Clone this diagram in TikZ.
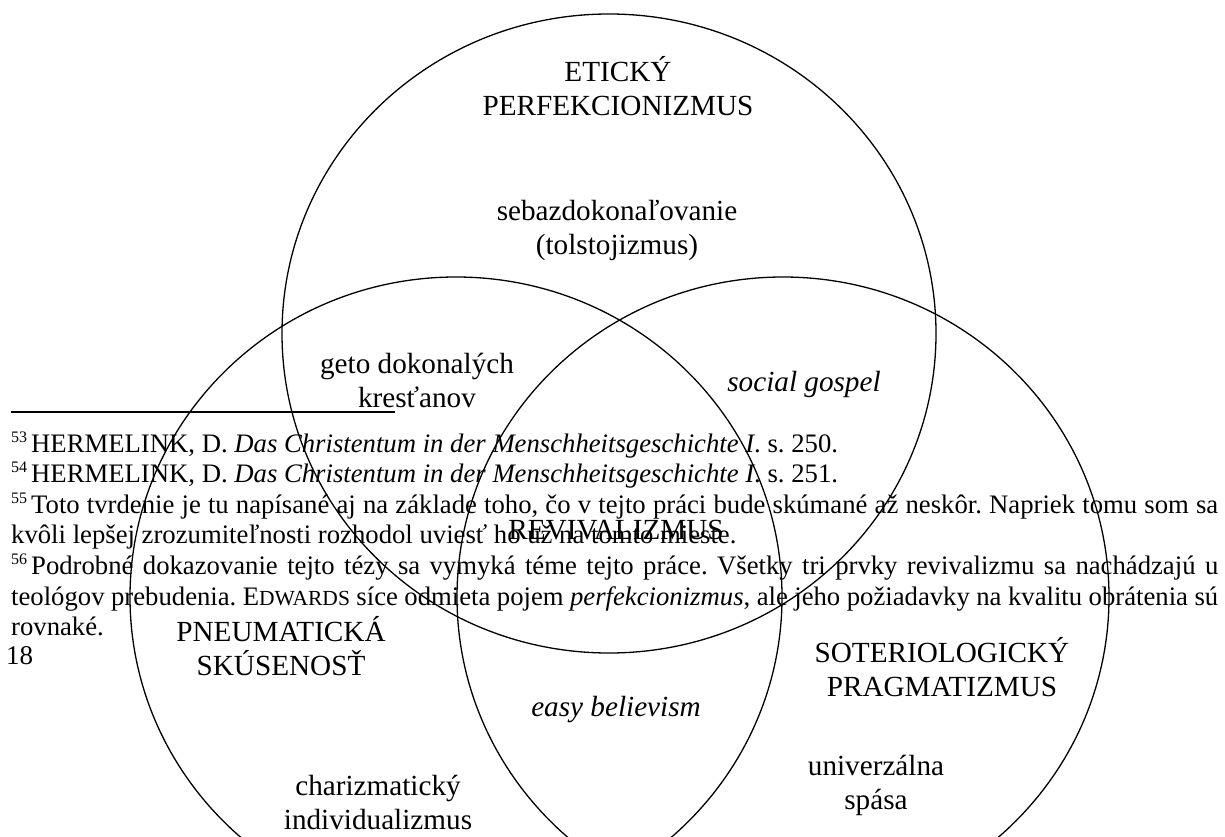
\documentclass[tikz,border=0pt]{standalone}
\usepackage{fontspec}
\setmainfont{Liberation Serif}
\usetikzlibrary{shapes.geometric}
\frenchspacing
\newcommand{\fnsize}{\fontsize{26.7}{30.6}\selectfont}
\newcommand{\lbsize}{\fontsize{29.2}{34}\selectfont}
\newcommand{\fnmark}[1]{\raisebox{10pt}{\fontsize{16}{16}\selectfont #1}\hspace{4pt}}
\newcommand{\fakesc}[1]{{\fontsize{21.5}{21.5}\selectfont #1}}
\tikzset{
  venn/.style={draw, ellipse, line width=1.3pt, inner sep=0pt},
  lbl/.style={anchor=base, inner sep=0pt, font=\lbsize},
  fn/.style={anchor=base west, inner sep=0pt, font=\fnsize},
  fnrule/.style={line width=1.5pt},
}
\begin{document}
\begin{tikzpicture}[x=1pt,y=-1pt]
\useasboundingbox (0,0) rectangle (1225,837);
% ellipses
\node[venn, minimum width=654pt, minimum height=639pt] (top) at (609,333.5) {};
\node[venn, minimum width=652pt, minimum height=640pt] (left) at (456,597) {};
\node[venn, minimum width=652pt, minimum height=640pt] (right) at (783,597) {};
% labels
\node[lbl] (et1) at (618,82) {ETICKÝ};
\node[lbl] (et2) at (618,116) {PERFEKCIONIZMUS};
\node[lbl] (se1) at (617,220) {sebazdokonaľovanie};
\node[lbl] (se2) at (617,254) {(tolstojizmus)};
\node[lbl] (ge1) at (417,373) {geto dokonalých};
\node[lbl] (ge2) at (417,407) {kresťanov};
\node[lbl] (sg) at (804,391) {\itshape social gospel};
\node[lbl] (rev) at (616,539) {REVIVALIZMUS};
\node[lbl] (pn1) at (281,641) {PNEUMATICKÁ};
\node[lbl] (pn2) at (281,675) {SKÚSENOSŤ};
\node[lbl] (so1) at (942,662) {SOTERIOLOGICKÝ};
\node[lbl] (so2) at (942,696) {PRAGMATIZMUS};
\node[lbl] (eb) at (616,716) {\itshape easy believism};
\node[lbl] (un1) at (876,775) {univerzálna};
\node[lbl] (un2) at (876,809) {spása};
\node[lbl] (ch1) at (378,795) {charizmatický};
\node[lbl] (ch2) at (378,829) {individualizmus};
% footnote rule
\coordinate (r1) at (11,412);
\coordinate (r2) at (395,412);
\draw[fnrule] (r1) -- (r2);
% footnotes
\node[fn] (f53) at (11,452) {\fnmark{53}HERMELINK, D. \textit{Das Christentum in der Menschheitsgeschichte I}. s. 250.};
\node[fn] (f54) at (11,482.6) {\fnmark{54}HERMELINK, D. \textit{Das Christentum in der Menschheitsgeschichte I}. s. 251.};
\node[fn] (f55a) at (11,513.2) {\hbox to 1207pt{\fnmark{55}Toto tvrdenie je tu napísané aj na základe toho, čo v tejto práci bude skúmané až neskôr. Napriek tomu som sa}};
\node[fn] (f55b) at (11,543.8) {kvôli lepšej zrozumiteľnosti rozhodol uviesť ho už na tomto mieste.};
\node[fn] (f56a) at (11,574.4) {\hbox to 1207pt{\fnmark{56}Podrobné dokazovanie tejto tézy sa vymyká téme tejto práce. Všetky tri prvky revivalizmu sa nachádzajú u}};
\node[fn] (f56b) at (11,605) {\hbox to 1207pt{teológov prebudenia. E\fakesc{DWARDS} síce odmieta pojem \textit{perfekcionizmus}, ale jeho požiadavky na kvalitu obrátenia sú}};
\node[fn] (f56c) at (11,635.6) {rovnaké.};
% page number
\node[anchor=base west, inner sep=0pt, font=\fontsize{27}{30}\selectfont] (pg) at (6,664) {18};
\end{tikzpicture}
\end{document}
